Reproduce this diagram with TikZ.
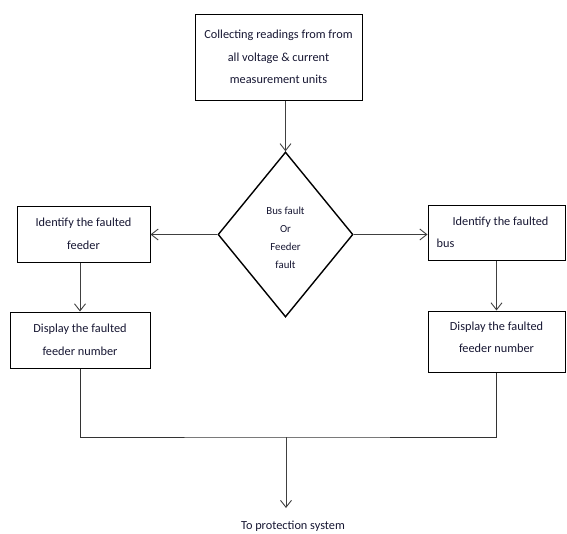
\documentclass[tikz,border=0pt]{standalone}
\usepackage{fontspec}
\setmainfont{Carlito}
\usepackage{tikz}
\usetikzlibrary{arrows.meta,positioning,shapes.geometric}
\definecolor{inkblue}{RGB}{22,22,50}

\begin{document}
\begin{tikzpicture}[x=1pt, y=-1pt,
  box/.style={draw, line width=1pt, inner sep=0pt, align=center,
    text=inkblue, font=\fontsize{12.3}{22.5}\selectfont},
  link/.style={draw=black!75, line width=0.9pt,
    -{Straight Barb[length=7pt,width=11pt]}}]
  \useasboundingbox (0,0) rectangle (567,533);
  % start and decision
  \node[box, minimum width=167, minimum height=86] (collect) at (278.5,57)
    {Collecting readings from from\\all voltage \& current\\measurement units};
  \node[diamond, draw, line width=1.4pt, inner sep=0pt,
    minimum width=135, minimum height=165,
    label={[text=inkblue, align=center, yshift=-3pt,
      font=\fontsize{10.8}{18}\selectfont]center:Bus fault\\Or\\Feeder\\fault}]
    (busfeeder) at (285.5,234.5) {};
  % feeder side
  \node[box, minimum width=133, minimum height=56] (idfeeder) at (83.5,234)
    {Identify the faulted\\feeder};
  \node[box, minimum width=140, minimum height=56] (showfeeder) at (80,340)
    {Display the faulted\\feeder number};
  % bus side
  \node[box, align=left, minimum width=137, minimum height=55]
    (idbus) at (496.5,232.5) {\hspace*{16pt}Identify the faulted\hspace*{8pt}\\bus};
  \node[box, text depth=9pt, minimum width=137, minimum height=61] (showbus) at (496.5,341.5)
    {Display the faulted\\feeder number};
  % output
  \coordinate (join) at (286,437);
  \coordinate (tip) at (286,508);
  \node[text=inkblue, font=\fontsize{12.3}{14}\selectfont] (protect) at (293,526)
    {To protection system};

  \draw[link] (collect.south -| busfeeder.north) -- (busfeeder.north);
  \draw[link] (busfeeder.west) -- (busfeeder.west -| idfeeder.east);
  \draw[link] (busfeeder.east) -- (busfeeder.east -| idbus.west);
  \draw[link] (idfeeder.south -| showfeeder.north) -- (showfeeder.north);
  \draw[link] (idbus.south) -- (showbus.north);
  \draw[draw=black!80, line width=0.9pt] (showfeeder.south) |- (join) -| (showbus.south);
  \draw[link] (join) -- (tip);
\end{tikzpicture}
\end{document}
